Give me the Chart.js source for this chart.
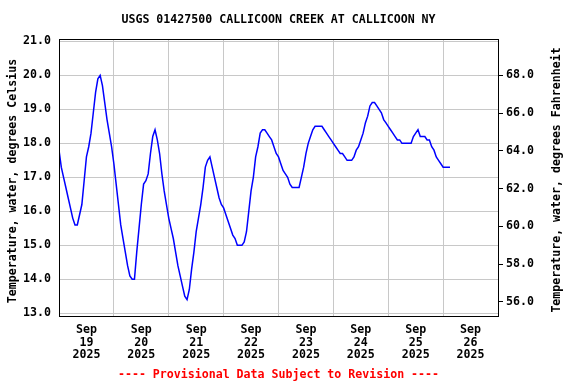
<!DOCTYPE html>
<html>
<head>
<meta charset="utf-8">
<script src="https://cdn.jsdelivr.net/npm/chart.js@4/dist/chart.umd.min.js"></script>
<style>
  html, body { margin: 0; padding: 0; background: #fff; }
  #wrap { width: 576px; height: 384px; }
</style>
</head>
<body>
<div id="wrap"><canvas id="c" width="576" height="384"></canvas></div>
<script>
// ---- Data (hourly water temperature, deg C) ----
const titleText = 'USGS 01427500 CALLICOON CREEK AT CALLICOON NY';
const footText = '---- Provisional Data Subject to Revision ----';
const leftTitle = 'Temperature, water, degrees Celsius';
const rightTitle = 'Temperature, water, degrees Fahrenheit';
const monthLabel = 'Sep';
const yearLabel = '2025';
const dayLabels = ['19', '20', '21', '22', '23', '24', '25', '26'];
const celsiusTicks = [13, 14, 15, 16, 17, 18, 19, 20, 21];
const fahrenheitTicks = [56, 58, 60, 62, 64, 66, 68];

const sep19 = [17.8,17.3,17.0,16.7,16.4,16.1,15.8,15.6,15.6,15.9,16.2,16.9,17.6,17.9,18.3,18.9,19.5,19.9,20.0,19.7,19.2,18.7,18.3,17.9];
const sep20 = [17.4,16.8,16.2,15.6,15.2,14.8,14.4,14.1,14.0,14.0,14.8,15.5,16.2,16.8,16.9,17.1,17.7,18.2,18.4,18.1,17.7,17.1,16.6,16.2];
const sep21 = [15.8,15.5,15.2,14.8,14.4,14.1,13.8,13.5,13.4,13.7,14.3,14.8,15.4,15.8,16.2,16.7,17.3,17.5,17.6,17.3,17.0,16.7,16.4,16.2];
const sep22 = [16.1,15.9,15.7,15.5,15.3,15.2,15.0,15.0,15.0,15.1,15.4,16.0,16.6,17.0,17.6,17.9,18.3,18.4,18.4,18.3,18.2,18.1,17.9,17.7];
const sep23 = [17.6,17.4,17.2,17.1,17.0,16.8,16.7,16.7,16.7,16.7,17.0,17.3,17.7,18.0,18.2,18.4,18.5,18.5,18.5,18.5,18.4,18.3,18.2,18.1];
const sep24 = [18.0,17.9,17.8,17.7,17.7,17.6,17.5,17.5,17.5,17.6,17.8,17.9,18.1,18.3,18.6,18.8,19.1,19.2,19.2,19.1,19.0,18.9,18.7,18.6];
const sep25 = [18.5,18.4,18.3,18.2,18.1,18.1,18.0,18.0,18.0,18.0,18.0,18.2,18.3,18.4,18.2,18.2,18.2,18.1,18.1,17.9,17.8,17.6,17.5,17.4];
const sep26 = [17.3,17.3,17.3,17.3];

const temps = [].concat(sep19, sep20, sep21, sep22, sep23, sep24, sep25, sep26);
const points = temps.map((v, i) => ({ x: i, y: v }));   // x = hours since Sep 19 00:00

// ---- Style ----
const FONT = "'DejaVu Sans Mono', 'Liberation Mono', monospace";
const FS = 11.6;
const Y_MIN = 12.92, Y_MAX = 21.07;
const toF = c => c * 1.8 + 32;

const framePlugin = {
  id: 'frame',
  afterDraw(chart) {
    const { ctx, chartArea: a } = chart;
    ctx.save();
    ctx.strokeStyle = '#000';
    ctx.lineWidth = 1;
    ctx.strokeRect(Math.round(a.left) + 0.5, Math.round(a.top) + 0.5,
                   Math.round(a.right - a.left), Math.round(a.bottom - a.top));
    ctx.fillStyle = '#000';
    ctx.font = 'bold ' + FS + 'px ' + FONT;
    ctx.textAlign = 'center';
    ctx.textBaseline = 'middle';
    const cx = (a.left + a.right) / 2;
    ctx.fillText(titleText, cx, 20);
    ctx.fillStyle = '#ff0000';
    ctx.fillText(footText, cx, 375);
    ctx.fillStyle = '#000';
    ctx.save();
    ctx.translate(13, 181);
    ctx.rotate(-Math.PI / 2);
    ctx.fillText(leftTitle, 0, 0);
    ctx.restore();
    ctx.save();
    ctx.translate(557, 180);
    ctx.rotate(-Math.PI / 2);
    ctx.fillText(rightTitle, 0, 0);
    ctx.restore();
    ctx.restore();
  }
};

new Chart(document.getElementById('c'), {
  type: 'line',
  data: {
    datasets: [{
      data: points,
      borderColor: '#0000ff',
      borderWidth: 1.5,
      pointRadius: 0,
      tension: 0,
      fill: false
    }]
  },
  options: {
    responsive: false,
    animation: false,
    devicePixelRatio: 1,
    layout: { padding: { top: 39, left: 0, right: 0, bottom: 0 } },
    plugins: { legend: { display: false }, tooltip: { enabled: false }, title: { display: false } },
    scales: {
      x: {
        type: 'linear',
        min: 0,
        max: 192,
        afterBuildTicks: s => { s.ticks = Array.from({ length: 17 }, (_, i) => ({ value: i * 12 })); },
        afterFit: s => { s.height = 68; },
        grid: {
          drawTicks: false,
          color: c => (c.tick && c.tick.value % 24 === 0 && c.tick.value > 0 && c.tick.value < 192) ? '#c8c8c8' : 'rgba(0,0,0,0)',
          lineWidth: 1
        },
        border: { display: true, color: '#000' },
        ticks: {
          autoSkip: false,
          maxRotation: 0,
          padding: 7,
          color: '#000',
          font: { family: FONT, size: FS, weight: 'bold', lineHeight: 1.12 },
          callback: v => (v % 24 === 12) ? [monthLabel, dayLabels[(v - 12) / 24], yearLabel] : ''
        }
      },
      y: {
        position: 'left',
        min: Y_MIN,
        max: Y_MAX,
        afterBuildTicks: s => { s.ticks = celsiusTicks.map(v => ({ value: v })); },
        afterFit: s => { s.width = 59; },
        grid: { drawTicks: false, color: '#c8c8c8', lineWidth: 1 },
        border: { display: true, color: '#000' },
        ticks: {
          padding: 8,
          color: '#000',
          font: { family: FONT, size: FS, weight: 'bold' },
          callback: v => Number(v).toFixed(1)
        }
      },
      yF: {
        position: 'right',
        min: toF(Y_MIN),
        max: toF(Y_MAX),
        afterBuildTicks: s => { s.ticks = fahrenheitTicks.map(v => ({ value: v })); },
        afterFit: s => { s.width = 78; },
        grid: { drawOnChartArea: false, drawTicks: true, tickLength: 5, tickColor: '#000' },
        border: { display: true, color: '#000' },
        ticks: {
          padding: 3,
          color: '#000',
          font: { family: FONT, size: FS, weight: 'bold' },
          callback: v => Number(v).toFixed(1)
        }
      }
    }
  },
  plugins: [framePlugin]
});
</script>
</body>
</html>
